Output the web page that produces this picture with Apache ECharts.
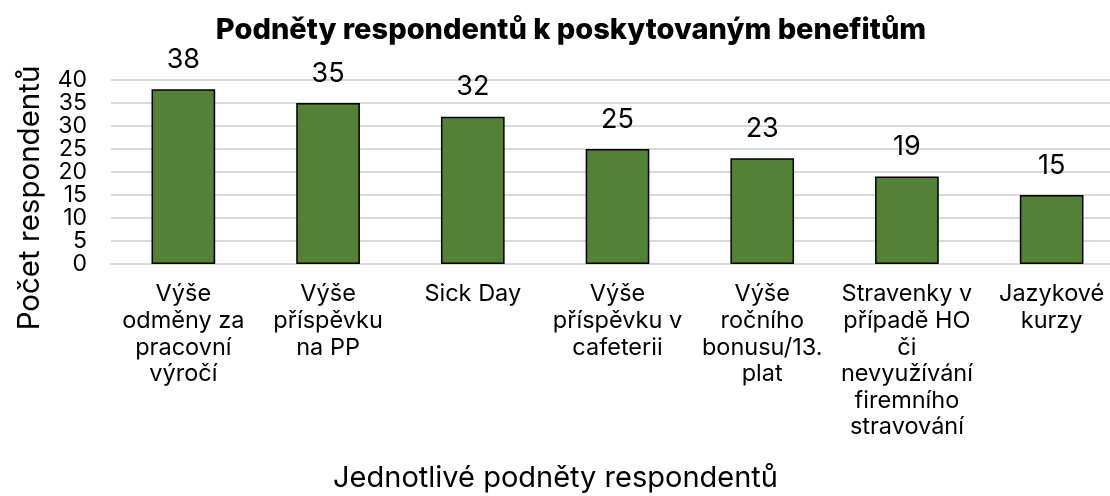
<!DOCTYPE html>
<html>
<head>
<meta charset="utf-8">
<script src="https://cdn.jsdelivr.net/npm/echarts@6/dist/echarts.min.js"></script>
<style>
  html, body { margin: 0; padding: 0; background: #fff; }
  #chart { width: 1110px; height: 496px; }
</style>
</head>
<body>
<div id="chart"></div>
<script>
// data
const categories = [
  'Výše\nodměny za\npracovní\nvýročí',
  'Výše\npříspěvku\nna PP',
  'Sick Day',
  'Výše\npříspěvku v\ncafeterii',
  'Výše\nročního\nbonusu/13.\nplat',
  'Stravenky v\npřípadě HO\nči\nnevyužívání\nfiremního\nstravování',
  'Jazykové\nkurzy'
]
const values = [38, 35, 32, 25, 23, 19, 15]

const font = 'Inter'
let mychart = echarts.init(document.getElementById('chart'))
mychart.setOption({
  animation: false,
  title: {
    text: 'Podněty respondentů k poskytovaným benefitům',
    left: 566,
    textAlign: 'center',
    top: 11,
    textStyle: { fontFamily: font, fontSize: 29, fontWeight: 800, color: '#000' }
  },
  grid: { left: 111, top: 80, width: 1013, height: 184, outerBoundsMode: 'none', containLabel: false },
  xAxis: {
    type: 'category',
    data: categories,
    axisTick: { show: false },
    axisLine: { lineStyle: { color: '#d9d9d9', width: 2 } },
    axisLabel: {
      interval: 0,
      margin: 17,
      fontFamily: font,
      fontSize: 23.5,
      lineHeight: 26.6,
      color: '#000',
      align: 'center'
    },
    name: 'Jednotlivé podněty respondentů',
    nameLocation: 'middle',
    nameGap: 200,
    nameTextStyle: { fontFamily: font, fontSize: 29, color: '#000', padding: [0, 124, 0, 0] }
  },
  yAxis: {
    type: 'value',
    min: 0,
    max: 40,
    interval: 5,
    axisLine: { show: false },
    axisTick: { show: false },
    splitLine: { lineStyle: { color: '#d9d9d9', width: 2 } },
    axisLabel: { fontFamily: font, fontSize: 23, color: '#000', margin: 24, lineHeight: 20 },
    name: 'Počet respondentů',
    nameLocation: 'middle',
    nameGap: 66,
    nameRotate: 90,
    nameTextStyle: { fontFamily: font, fontSize: 29.5, color: '#000', padding: [0, 52, 0, 0] }
  },
  series: [{
    type: 'bar',
    data: values,
    barCategoryGap: '56%',
    itemStyle: { color: '#538135', borderColor: '#000', borderWidth: 1.5 },
    label: {
      show: true,
      position: 'top',
      distance: 16,
      fontFamily: font,
      fontSize: 27,
      color: '#000'
    }
  }]
})
</script>
</body>
</html>
